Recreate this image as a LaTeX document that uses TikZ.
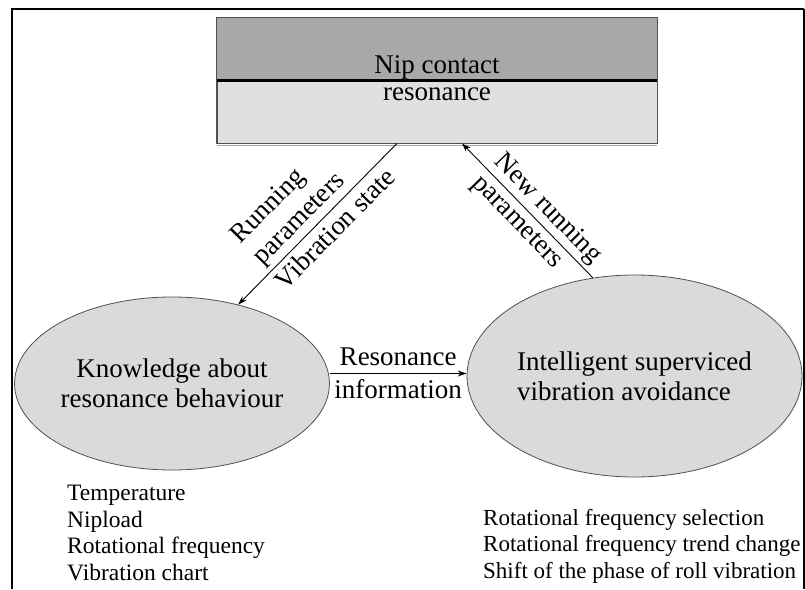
\documentclass[tikz,border=0pt]{standalone}
\usepackage{fontspec}
\setmainfont{Liberation Serif}
\usetikzlibrary{arrows.meta, positioning, shapes.geometric}
\definecolor{nipdark}{HTML}{A8A8A8}
\definecolor{niplight}{HTML}{E0E0E0}
\definecolor{ovalfill}{HTML}{DADADA}
\definecolor{edgegray}{HTML}{505050}
\tikzset{
  nipbox/.style={rectangle, draw=edgegray, line width=0.8pt, fill=niplight,
    minimum width=440pt, minimum height=125pt, inner sep=0pt},
  oval/.style={ellipse, draw=edgegray, line width=0.8pt, fill=ovalfill, inner sep=0pt,
    font=\fontsize{27}{30}\selectfont},
  lbl/.style={font=\fontsize{27}{31}\selectfont},
  listtxt/.style={font=\fontsize{23.5}{26.5}\selectfont, align=left, inner sep=0pt, anchor=north west},
  arr/.style={-{Stealth[length=9pt, width=6pt]}, line width=0.9pt, black},
  frameline/.style={line width=2pt, black},
}

\begin{document}
\begin{tikzpicture}[x=1pt, y=-1pt]
  \useasboundingbox (0,0) rectangle (805,589);
  % frame, cut off at the bottom
  \draw[frameline] (12,589) -- (12,9) -- (804,9);
  \draw[line width=1.4pt] (804,9) -- (804,589);

  % nip contact box
  \node[nipbox] (nip) at (437,80.5) {};
  \fill[nipdark] (nip.north west) rectangle (nip.east);
  \draw[edgegray, line width=0.8pt] (nip.north west) rectangle (nip.south east);
  \draw[gray!70, line width=0.8pt] ([yshift=-1.5pt]nip.south west) -- ([yshift=-1.5pt]nip.south east);
  \draw[line width=3pt] (nip.west) -- (nip.east);
  \node[lbl, anchor=base] (niptop) at ([yshift=7.5pt]nip.center) {Nip contact};
  \node[lbl, anchor=base] (nipbot) at ([yshift=-19.5pt]nip.center) {resonance};

  % the two ovals
  \node[oval, minimum width=313pt, minimum height=173pt, align=center] (know) at (172,383.5)
    {Knowledge about\\resonance behaviour};
  \node[oval, minimum width=335pt, minimum height=202pt, align=left] (avoid) at (634.5,376)
    {Intelligent superviced\\vibration avoidance};

  % connectors
  \draw[arr] ([xshift=-40pt]nip.south) -- (know.50)
    node[pos=0.54, sloped, above, lbl, align=left] (runpar) {Running\\parameters}
    node[pos=0.46, sloped, below=2pt, lbl] (vibstate) {Vibration state};
  \draw[arr] (avoid.113) -- ([xshift=25pt]nip.south)
    node[pos=0.43, sloped, lbl, align=left] (newpar) {New running\\parameters};
  \draw[arr] ([yshift=10pt]know.east) -- ([yshift=10pt]know.east -| avoid.west)
    node[midway, above=4pt, lbl] (resinf) {Resonance}
    node[midway, below=2pt, lbl] (info) {information};

  % lists under the ovals
  \node[listtxt] (inputs) at (67,485)
    {Temperature\\Nipload\\Rotational frequency\\Vibration chart};
  \node[listtxt, font=\fontsize{23}{26.5}\selectfont] (actions) at (483,509)
    {Rotational frequency selection\\Rotational frequency trend change\\Shift of the phase of roll vibration};
\end{tikzpicture}
\end{document}
